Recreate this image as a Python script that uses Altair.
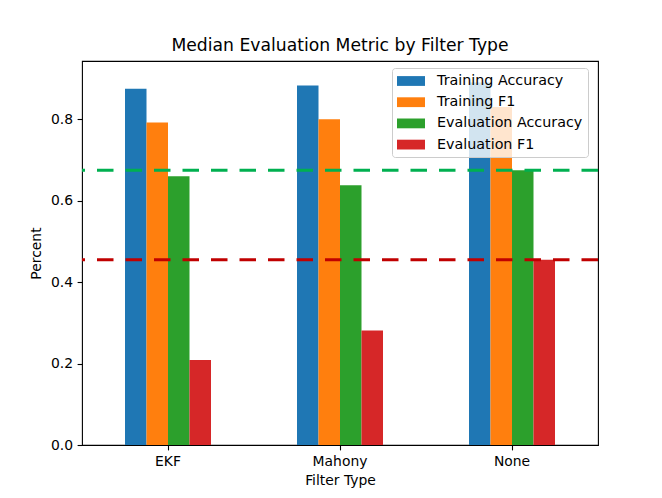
import altair as alt
import pandas as pd

filters = ["EKF", "Mahony", "None"]
series = ["Training Accuracy", "Training F1", "Evaluation Accuracy", "Evaluation F1"]
training_accuracy = [0.875, 0.883, 0.890]
training_f1 = [0.792, 0.800, 0.830]
evaluation_accuracy = [0.660, 0.638, 0.675]
evaluation_f1 = [0.209, 0.281, 0.455]
colors = ["#1f77b4", "#ff7f0e", "#2ca02c", "#d62728"]
ref_values = [0.675, 0.455]
ref_colors = ["#00b050", "#c00000"]
y_ticks = [0.0, 0.2, 0.4, 0.6, 0.8]

rows = []
for name, vals in zip(series, [training_accuracy, training_f1, evaluation_accuracy, evaluation_f1]):
    for f, v in zip(filters, vals):
        rows.append({"Filter Type": f, "Metric": name, "Value": v})
df = pd.DataFrame(rows)
ref_df = pd.DataFrame({"Value": ref_values, "Color": ref_colors})

FONT = "DejaVu Sans"

bars = alt.Chart(df).mark_bar().encode(
    x=alt.X("Filter Type:N", sort=filters,
            scale=alt.Scale(paddingInner=0.5, paddingOuter=0.25),
            axis=alt.Axis(title="Filter Type", labelAngle=0)),
    xOffset=alt.XOffset("Metric:N", sort=series,
                        scale=alt.Scale(paddingInner=0, paddingOuter=0)),
    y=alt.Y("Value:Q", scale=alt.Scale(domain=[0, 0.943], nice=False, zero=True),
            axis=alt.Axis(title="Percent", values=y_ticks, format=".1f")),
    color=alt.Color("Metric:N", sort=series,
                    scale=alt.Scale(domain=series, range=colors),
                    legend=alt.Legend(
                        title=None, orient="none", legendX=310, legendY=7,
                        fillColor="rgba(255,255,255,0.8)", strokeColor="#cccccc",
                        cornerRadius=3, padding=5,
                        symbolType="M-1.75,-0.6125H1.75V0.6125H-1.75Z",
                        symbolSize=256, symbolStrokeWidth=0, symbolOpacity=1,
                        symbolOffset=6, labelOffset=18, labelFontSize=14.3,
                        labelFont=FONT, labelColor="black", rowPadding=5.2,
                        labelLimit=300)),
)

rules = alt.Chart(ref_df).mark_rule(strokeWidth=3, strokeDash=[16.5, 12]).encode(
    y="Value:Q",
    stroke=alt.Stroke("Color:N", scale=None),
)

chart = alt.layer(bars, rules).properties(
    width=516, height=384,
    title=alt.TitleParams("Median Evaluation Metric by Filter Type", fontSize=17.2,
                          font=FONT, fontWeight="normal", color="black",
                          anchor="middle", baseline="alphabetic", offset=-7),
    autosize=alt.AutoSizeParams(type="none"),
    padding={"left": 74, "top": 53, "right": 56, "bottom": 45},
).configure_view(
    stroke="black", strokeWidth=1.1
).configure_axis(
    domain=False, grid=False, tickColor="black", tickSize=4.9, tickWidth=1.1,
    labelFont=FONT, labelFontSize=13.9, labelColor="black", labelPadding=4.5,
    titleFont=FONT, titleFontSize=13.9, titleFontWeight="normal", titleColor="black",
).configure_axisX(titlePadding=5).configure_axisY(titlePadding=7)

chart.save("out.html", embed_options={"renderer": "svg", "actions": False})
